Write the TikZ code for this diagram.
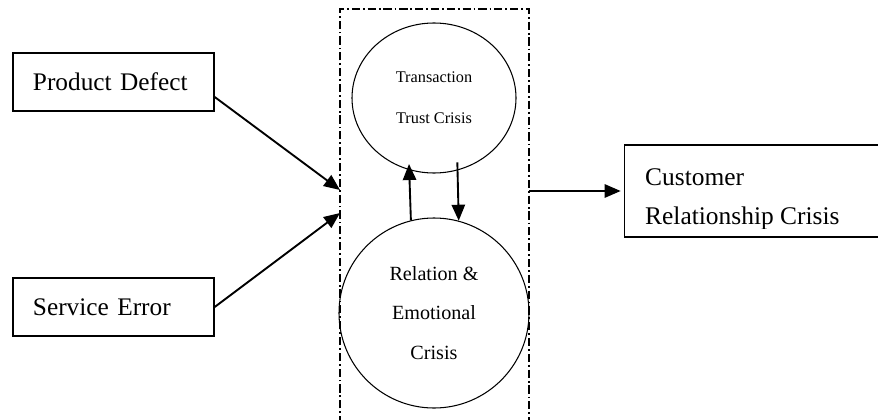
\documentclass[tikz,border=0pt]{standalone}
\usepackage{fontspec}
\setmainfont{Liberation Serif}
\usetikzlibrary{arrows.meta}
\usetikzlibrary{shapes.geometric}
\usetikzlibrary{positioning}

\begin{document}
\begin{tikzpicture}[
  x=0.03cm, y=-0.03cm,
  causebox/.style={draw, rectangle, line width=1.2pt, minimum height=1.74cm,
    text width=4.83cm, inner xsep=0.6cm, align=left,
    font=\fontsize{21.6}{26}\selectfont},
  crisis/.style={draw, line width=0.9pt, inner sep=0pt, align=center},
  link/.style={->, line width=1.6pt},
  frameline/.style={line width=1.4pt, dash pattern=on 7pt off 2.5pt on 1.5pt off 2.5pt},
]
\tikzset{>={Triangle[length=0.48cm, width=0.4cm]}}
\useasboundingbox (0,0) rectangle (878,419);

% Causes (left)
\node[causebox] (pd) at (113.5,82)  {Product Defect};
\node[causebox] (se) at (113.5,307) {Service Error};

% Dash-dot frame, open at the bottom
\coordinate (ftl) at (340,9);
\coordinate (ftr) at (529,9);
\coordinate (fbl) at (340,440);
\coordinate (fbr) at (529,440);
\draw[frameline] (fbl) -- (ftl) -- (ftr) -- (fbr);

% Crisis nodes inside the frame
\node[crisis, ellipse, minimum width=4.92cm, minimum height=4.5cm,
  font=\fontsize{13.9}{35}\selectfont] (tr) at (434,98)
  {Transaction\\Trust Crisis};
\node[crisis, circle, minimum size=5.7cm,
  font=\fontsize{17.2}{33.7}\selectfont] (rec) at (434,313)
  {Relation \&\\Emotional\\Crisis};

% Result (right), box runs off the page
\node[draw, rectangle, line width=1.2pt, minimum width=8.4cm, minimum height=2.76cm,
  anchor=west] (cust) at (624,191) {};
\begin{scope}
  \clip (600,140) rectangle (900,228);
  \node[anchor=north west, inner sep=0pt, align=left,
    font=\fontsize{21.7}{33.3}\selectfont] (custlabel) at (645,168)
    {Customer\\Relationship Crisis};
\end{scope}

% Arrow ends on the frame
\coordinate (in1) at (340,190);
\coordinate (in2) at (340,213);

% Edges
\draw[link] ([yshift=-0.45cm]pd.east) -- (in1);
\draw[link] (se.east) -- (in2);
\draw[link, shorten >=-0.18cm] (rec.104.6) -- (tr.251.5);
\draw[link, shorten <=-0.24cm] (tr.288.5) -- (rec.75.4);
\draw[link, shorten >=0.1cm] (cust.west -| ftr) -- (cust.west);

\end{tikzpicture}
\end{document}
